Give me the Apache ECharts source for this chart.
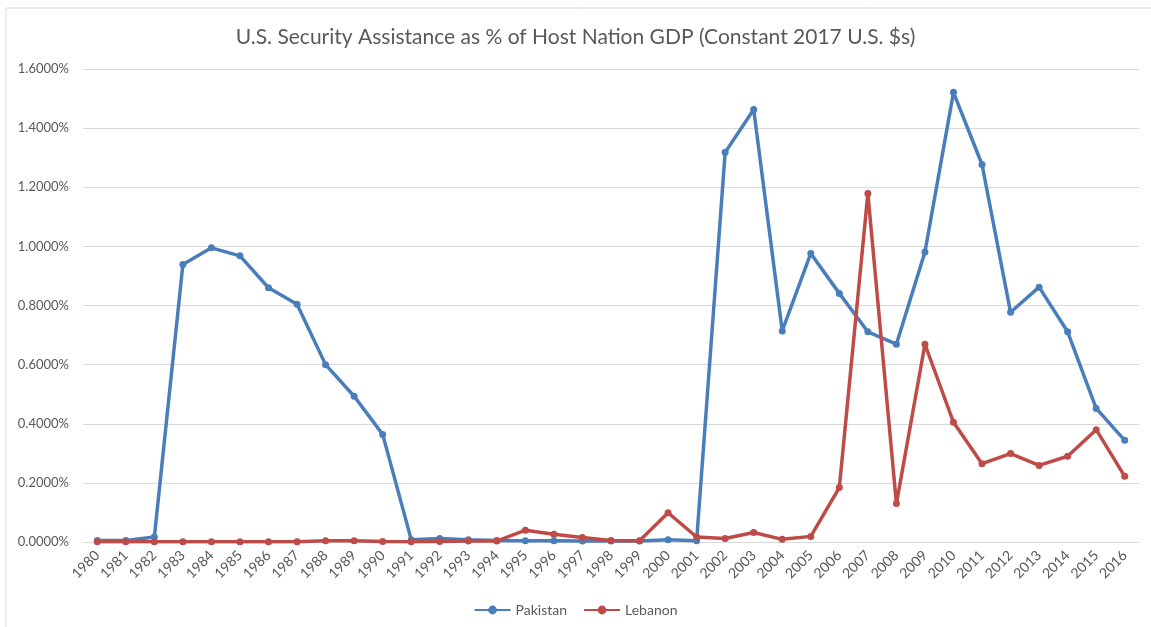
<!DOCTYPE html>
<html lang="en">
<head>
    <meta charset="UTF-8">
    <title>Security Assistance</title>
    <script src="https://cdn.jsdelivr.net/npm/echarts@6/dist/echarts.min.js"></script>
    <style>
        html, body { margin: 0; padding: 0; background: #fff; }
        #main { width: 1151px; height: 627px; }
    </style>
</head>
<body>
<div id="main"></div>
<script>
    var years = [];
    for (var y = 1980; y <= 2016; y++) years.push(String(y));

    // values in percent of GDP
    var pakistan = [0.005, 0.005, 0.017, 0.939, 0.995, 0.968, 0.860, 0.804, 0.600, 0.493,
        0.364, 0.008, 0.012, 0.008, 0.005, 0.004, 0.004, 0.003, 0.003, 0.003,
        0.008, 0.004, 1.318, 1.463, 0.714, 0.976, 0.841, 0.711, 0.669, 0.981,
        1.521, 1.277, 0.777, 0.862, 0.711, 0.452, 0.344];
    var lebanon = [0.001, 0.001, 0.001, 0.001, 0.001, 0.001, 0.001, 0.001, 0.004, 0.004,
        0.002, 0.001, 0.002, 0.003, 0.003, 0.040, 0.026, 0.015, 0.005, 0.004,
        0.099, 0.017, 0.012, 0.032, 0.009, 0.019, 0.184, 1.179, 0.130, 0.669,
        0.405, 0.265, 0.299, 0.259, 0.290, 0.380, 0.222];

    var font = 'Lato, "Open Sans", sans-serif';
    var chart = echarts.init(document.getElementById('main'));
    chart.setOption({
        animation: false,
        title: {
            text: 'U.S. Security Assistance as % of Host Nation GDP (Constant 2017 U.S. $s)',
            left: 'center',
            top: 22,
            textStyle: { fontFamily: font, fontSize: 21, fontWeight: 'normal', color: '#595959' }
        },
        graphic: [{
            type: 'polyline',
            shape: { points: [[6, 627], [6, 8], [1151, 8]] },
            style: { stroke: '#d9d9d9', lineWidth: 1, fill: null }
        }],
        legend: {
            bottom: 5,
            left: 'center',
            itemWidth: 36,
            itemHeight: 11,
            itemGap: 16,
            textStyle: { fontFamily: font, fontSize: 14, color: '#595959' },
            data: ['Pakistan', 'Lebanon']
        },
        grid: { left: 83, right: 12, top: 69, bottom: 85 },
        xAxis: {
            type: 'category',
            data: years,
            boundaryGap: true,
            axisLine: { lineStyle: { color: '#d9d9d9' } },
            axisTick: { show: false },
            axisLabel: {
                rotate: 45, interval: 0, margin: 11,
                fontFamily: font, fontSize: 14, color: '#595959'
            }
        },
        yAxis: {
            type: 'value',
            min: 0, max: 1.6, interval: 0.2,
            axisLine: { show: false },
            axisTick: { show: false },
            splitLine: { lineStyle: { color: '#d9d9d9' } },
            axisLabel: {
                fontFamily: font, fontSize: 13, color: '#595959', margin: 14,
                formatter: function (v) { return v.toFixed(4) + '%'; }
            }
        },
        series: [{
            name: 'Pakistan',
            type: 'line',
            data: pakistan,
            symbol: 'circle',
            symbolSize: 7,
            lineStyle: { width: 3.5, color: '#4a7ebb' },
            itemStyle: { color: '#4a7ebb' }
        }, {
            name: 'Lebanon',
            type: 'line',
            data: lebanon,
            symbol: 'circle',
            symbolSize: 7,
            lineStyle: { width: 3.5, color: '#be4b48' },
            itemStyle: { color: '#be4b48' }
        }]
    });
</script>
</body>
</html>
